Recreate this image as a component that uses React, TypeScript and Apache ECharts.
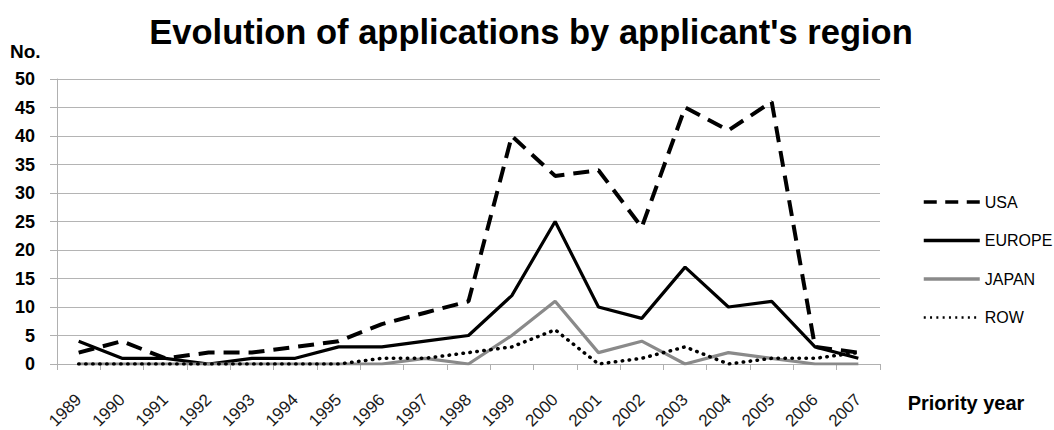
import React, { useEffect, useRef } from "react";
import * as echarts from "echarts";

const years = ["1989", "1990", "1991", "1992", "1993", "1994", "1995", "1996", "1997", "1998", "1999", "2000", "2001", "2002", "2003", "2004", "2005", "2006", "2007"];
const usa = [2, 4, 1, 2, 2, 3, 4, 7, 9, 11, 40, 33, 34, 24, 45, 41, 46, 3, 2];
const europe = [4, 1, 1, 0, 1, 1, 3, 3, 4, 5, 12, 25, 10, 8, 17, 10, 11, 3, 1];
const japan = [0, 0, 0, 0, 0, 0, 0, 0, 1, 0, 5, 11, 2, 4, 0, 2, 1, 0, 0];
const row = [0, 0, 0, 0, 0, 0, 0, 1, 1, 2, 3, 6, 0, 1, 3, 0, 1, 1, 2];
const yMin = 0;
const yMax = 50;
const yStep = 5;

const FONT = "'Liberation Sans', Arial, sans-serif";

export default function App() {
  const ref = useRef<HTMLDivElement>(null);
  useEffect(() => {
    document.body.style.margin = "0";
    const chart = echarts.init(ref.current!, null, { renderer: "svg" });
    chart.setOption({
      animation: false,
      backgroundColor: "#ffffff",
      grid: { left: 57, right: 174, top: 79, bottom: 66, containLabel: false, outerBoundsMode: "none" },
      legend: {
        orient: "vertical",
        left: 917,
        top: 189,
        itemWidth: 56,
        itemHeight: 16,
        itemGap: 22.5,
        itemStyle: { opacity: 0 },
        textStyle: { fontFamily: FONT, fontSize: 16, color: "#000", lineHeight: 16 },
        data: [
          { name: "USA", lineStyle: { color: "#000", width: 3.5, type: [13, 8.5], cap: "butt" } },
          { name: "EUROPE", lineStyle: { color: "#000", width: 3.5, type: "solid" } },
          { name: "JAPAN", lineStyle: { color: "#8a8a8a", width: 3.5, type: "solid" } },
          { name: "ROW", lineStyle: { color: "#000", width: 2.5, type: [2, 4.3], cap: "butt" } },
        ],
      },
      xAxis: {
        type: "category",
        data: years,
        boundaryGap: true,
        axisLine: { lineStyle: { color: "#b0b0b0", width: 1 } },
        axisTick: { show: true, length: 6, lineStyle: { color: "#b0b0b0" } },
        axisLabel: { rotate: 45, margin: 33, fontFamily: FONT, fontSize: 17, color: "#1a1a1a", interval: 0 },
      },
      yAxis: {
        type: "value",
        min: yMin,
        max: yMax,
        interval: yStep,
        axisLine: { show: true, lineStyle: { color: "#b0b0b0", width: 1 } },
        axisTick: { show: true, length: 7, lineStyle: { color: "#b0b0b0" } },
        splitLine: { show: true, lineStyle: { color: "#b4b4b4", width: 1.2 } },
        axisLabel: { margin: 22, fontFamily: FONT, fontSize: 18, fontWeight: "bold", color: "#000" },
      },
      series: [
        {
          name: "USA", type: "line", data: usa, symbol: "none", showSymbol: false,
          lineStyle: { color: "#000", width: 4, type: [16, 9], cap: "butt" },
          itemStyle: { color: "#000" },
        },
        {
          name: "EUROPE", type: "line", data: europe, symbol: "none", showSymbol: false,
          lineStyle: { color: "#000", width: 3.2, type: "solid" },
          itemStyle: { color: "#000" },
        },
        {
          name: "JAPAN", type: "line", data: japan, symbol: "none", showSymbol: false,
          lineStyle: { color: "#8a8a8a", width: 3.2, type: "solid" },
          itemStyle: { color: "#8a8a8a" },
        },
        {
          name: "ROW", type: "line", data: row, symbol: "none", showSymbol: false,
          lineStyle: { color: "#000", width: 3.5, type: [0.5, 6.5], cap: "round" },
          itemStyle: { color: "#000" },
        },
      ],
      graphic: [
        {
          type: "text", x: 531, y: 14,
          style: { text: "Evolution of applications by applicant's region", fontFamily: FONT, fontSize: 34.5, fontWeight: "bold", fill: "#000", textAlign: "center", textVerticalAlign: "top" },
        },
        {
          type: "text", x: 10, y: 42,
          style: { text: "No.", fontFamily: FONT, fontSize: 19, fontWeight: "bold", fill: "#000", textAlign: "left", textVerticalAlign: "top" },
        },
        {
          type: "text", x: 966, y: 403,
          style: { text: "Priority year", fontFamily: FONT, fontSize: 20, fontWeight: "bold", fill: "#000", textAlign: "center", textVerticalAlign: "middle" },
        },
      ],
    });
    return () => chart.dispose();
  }, []);
  return <div ref={ref} style={{ width: 1054, height: 430 }} />;
}
